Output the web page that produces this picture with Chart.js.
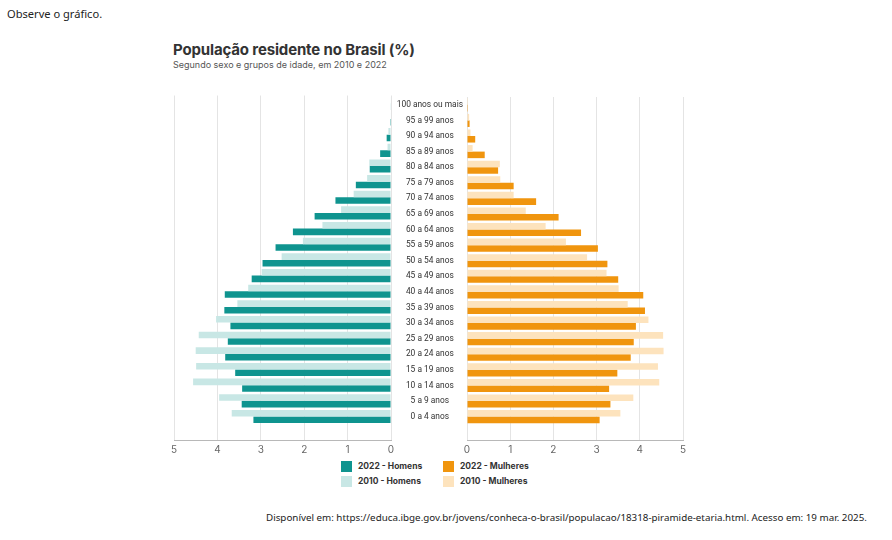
<!DOCTYPE html>
<html lang="pt-BR">
<head>
<meta charset="utf-8">
<script src="https://cdn.jsdelivr.net/npm/chart.js@4.4.1/dist/chart.umd.min.js"></script>
<style>
  body { margin: 0; width: 892px; height: 540px; background: #fff; position: relative; overflow: hidden; font-family: Inter, sans-serif; }
  .abs { position: absolute; }
  #intro { left: 7px; top: 6px; font-family: "Noto Sans", sans-serif; font-size: 11.1px; color: #222; }
  #title { left: 173px; top: 40px; font-size: 15px; font-weight: 700; color: #333; letter-spacing: -0.15px; }
  #subtitle { left: 173px; top: 59px; font-size: 9px; color: #555; }
  #left { left: 160px; top: 88px; width: 235px; height: 372px; }
  #right { left: 391px; top: 88px; width: 302px; height: 372px; }
  #legend { left: 341px; top: 461px; display: grid; grid-template-columns: 102px 110px; row-gap: 4px; font-size: 8.5px; font-weight: 700; color: #333; }
  #legend span.sw { display: inline-block; width: 11px; height: 11px; vertical-align: middle; margin-right: 6px; }
  #legend div { line-height: 11px; }
  #source { left: 266px; top: 511px; font-family: "Noto Sans", sans-serif; font-size: 9.8px; color: #222; white-space: nowrap; }
</style>
</head>
<body>
<div id="intro" class="abs">Observe o gráfico.</div>
<div id="title" class="abs">População residente no Brasil (%)</div>
<div id="subtitle" class="abs">Segundo sexo e grupos de idade, em 2010 e 2022</div>
<div id="left" class="abs"><canvas id="chartLeft"></canvas></div>
<div id="right" class="abs"><canvas id="chartRight"></canvas></div>
<div id="legend" class="abs">
  <div><span class="sw" style="background:#0f948f"></span>2022 - Homens</div>
  <div><span class="sw" style="background:#f0950e"></span>2022 - Mulheres</div>
  <div><span class="sw" style="background:#c8e7e5"></span>2010 - Homens</div>
  <div><span class="sw" style="background:#fde3bd"></span>2010 - Mulheres</div>
</div>
<div id="source" class="abs">Disponível em: https://educa.ibge.gov.br/jovens/conheca-o-brasil/populacao/18318-piramide-etaria.html. Acesso em: 19 mar. 2025.</div>
<script>
const faixas = ['100 anos ou mais', '95 a 99 anos', '90 a 94 anos', '85 a 89 anos', '80 a 84 anos',
  '75 a 79 anos', '70 a 74 anos', '65 a 69 anos', '60 a 64 anos', '55 a 59 anos', '50 a 54 anos',
  '45 a 49 anos', '40 a 44 anos', '35 a 39 anos', '30 a 34 anos', '25 a 29 anos', '20 a 24 anos',
  '15 a 19 anos', '10 a 14 anos', '5 a 9 anos', '0 a 4 anos'];

const homens2010 = [0.01, 0.01, 0.06, 0.08, 0.5, 0.55, 0.86, 1.15, 1.58, 2.03, 2.52,
  2.98, 3.29, 3.54, 4.03, 4.43, 4.5, 4.49, 4.56, 3.96, 3.67];
const homens2022 = [0.01, 0.02, 0.1, 0.25, 0.49, 0.81, 1.28, 1.76, 2.26, 2.66, 2.96,
  3.21, 3.83, 3.84, 3.7, 3.76, 3.82, 3.59, 3.43, 3.44, 3.17];
const mulheres2010 = [0.02, 0.05, 0.08, 0.13, 0.76, 0.77, 1.08, 1.36, 1.82, 2.29, 2.78,
  3.23, 3.51, 3.72, 4.2, 4.54, 4.55, 4.42, 4.45, 3.85, 3.55];
const mulheres2022 = [0.02, 0.06, 0.19, 0.41, 0.72, 1.08, 1.6, 2.12, 2.64, 3.03, 3.25,
  3.5, 4.08, 4.12, 3.91, 3.86, 3.79, 3.48, 3.29, 3.32, 3.07];

const xTicks = [0, 1, 2, 3, 4, 5];

Chart.defaults.font.family = 'Inter, sans-serif';
Chart.defaults.animation = false;

// a blank slot under "0 a 4 anos" keeps the gap above the axis
const rows = faixas.concat(['']);

function xScale(reverse) {
  return {
    reverse: reverse,
    min: xTicks[0],
    max: xTicks[xTicks.length - 1],
    afterBuildTicks: s => { s.ticks = xTicks.map(v => ({ value: v })); },
    afterFit: s => { s.height = 20; },
    grid: { color: '#e4e4e4', drawTicks: false },
    border: { display: true, color: '#b8b8b8' },
    ticks: { color: '#666', font: { size: 10 }, padding: 4 }
  };
}

function barSet(label, data, color) {
  return { label: label, data: data, backgroundColor: color, categoryPercentage: 0.84, barPercentage: 1 };
}

new Chart(document.getElementById('chartLeft'), {
  type: 'bar',
  data: {
    labels: rows,
    datasets: [
      barSet('2010 - Homens', homens2010, '#c8e7e5'),
      barSet('2022 - Homens', homens2022, '#0f948f')
    ]
  },
  options: {
    indexAxis: 'y',
    responsive: true,
    maintainAspectRatio: false,
    layout: { padding: { left: 14, right: 4, top: 7.5, bottom: 0 } },
    plugins: { legend: { display: false }, tooltip: { enabled: false } },
    scales: {
      x: xScale(true),
      y: { display: false }
    }
  }
});

new Chart(document.getElementById('chartRight'), {
  type: 'bar',
  data: {
    labels: rows,
    datasets: [
      barSet('2010 - Mulheres', mulheres2010, '#fde3bd'),
      barSet('2022 - Mulheres', mulheres2022, '#f0950e')
    ]
  },
  options: {
    indexAxis: 'y',
    responsive: true,
    maintainAspectRatio: false,
    layout: { padding: { left: 0, right: 10, top: 7.5, bottom: 0 } },
    plugins: { legend: { display: false }, tooltip: { enabled: false } },
    scales: {
      x: xScale(false),
      y: {
        afterFit: s => { s.width = 76; },
        grid: { display: false, drawTicks: false },
        border: { display: false },
        ticks: { crossAlign: 'center', padding: 4, color: '#333', font: { family: 'Roboto, sans-serif', size: 8.4 }, autoSkip: false }
      }
    }
  }
});
</script>
</body>
</html>
